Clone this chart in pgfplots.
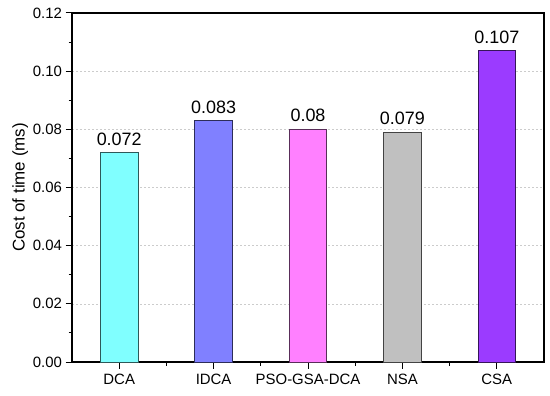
\documentclass[border=0pt]{standalone}
\usepackage{pgfplots}
\pgfplotsset{compat=1.18}
\usepackage{fontspec}
\setmainfont{Liberation Sans}
\definecolor{c1}{HTML}{80FFFF}
\definecolor{c2}{HTML}{8080FF}
\definecolor{c3}{HTML}{FF80FF}
\definecolor{c4}{HTML}{C0C0C0}
\definecolor{c5}{HTML}{9B3BFF}
\begin{document}
\begin{tikzpicture}
\begin{axis}[
  scale only axis,
  width=472bp, height=349bp,
  xmin=-0.5, xmax=4.5,
  ymin=0, ymax=0.12,
  ytick={0,0.02,...,0.12},
  minor y tick num=1,
  xtick={0,1,2,3,4},
  xticklabels={DCA,IDCA,PSO-GSA-DCA,NSA,CSA},
  minor xtick={0.5,1.5,2.5,3.5},
  tick pos=left,
  tick align=outside,
  major tick length=6.5bp,
  minor tick length=3.5bp,
  every tick/.style={black, line width=1pt},
  axis line style={line width=1.1pt},
  ymajorgrids,
  major grid style={dash pattern=on 2bp off 2bp, gray!40, line width=0.5pt},
  yticklabel style={/pgf/number format/fixed, /pgf/number format/fixed zerofill, /pgf/number format/precision=2, /pgf/number format/assume math mode=true},
  ticklabel style={font=\fontsize{15}{17}\selectfont},
  xticklabel style={yshift=-2bp},
  ylabel={Cost of time (ms)},
  ylabel style={font=\fontsize{17}{19}\selectfont, yshift=-2bp},
  ybar, bar width=0.4, bar shift=0pt,
  point meta=explicit symbolic,
  nodes near coords,
  nodes near coords style={font=\fontsize{18}{20}\selectfont, black, yshift=3.5bp},
]
\addplot[fill=c1, draw=c1!35!black, line width=0.8pt] coordinates {(0,0.072) [0.072]};
\addplot[fill=c2, draw=c2!35!black, line width=0.8pt] coordinates {(1,0.083) [0.083]};
\addplot[fill=c3, draw=c3!35!black, line width=0.8pt] coordinates {(2,0.080) [0.08]};
\addplot[fill=c4, draw=c4!35!black, line width=0.8pt] coordinates {(3,0.079) [0.079]};
\addplot[fill=c5, draw=c5!35!black, line width=0.8pt] coordinates {(4,0.107) [0.107]};
\end{axis}
\pgfresetboundingbox
\path (current axis.south west) ++(-72bp,-33bp) rectangle ([shift={(6bp,13bp)}]current axis.north east);
\end{tikzpicture}
\end{document}
